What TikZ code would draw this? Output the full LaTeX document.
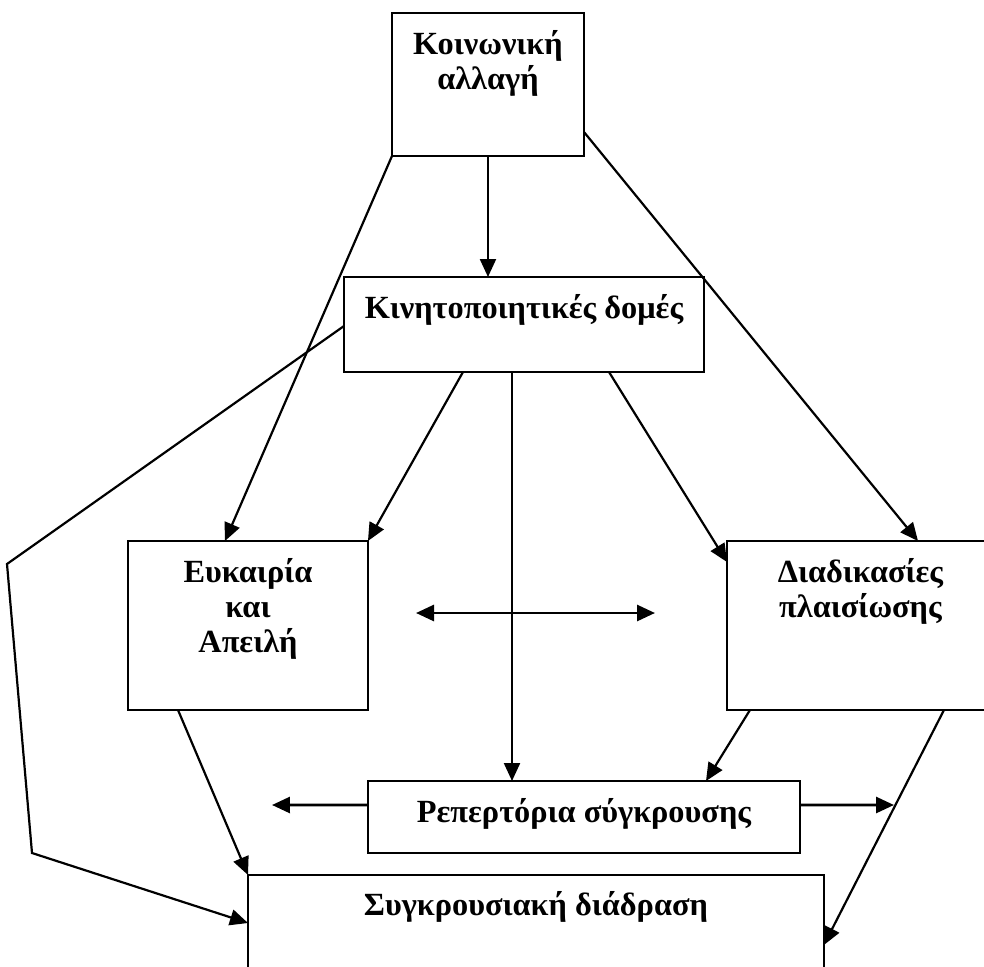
\documentclass[tikz,border=0pt]{standalone}
\usepackage{fontspec}
\setmainfont{Liberation Serif}
\usetikzlibrary{arrows.meta, positioning, calc}
\tikzset{
  box/.style={rectangle, draw=black, line width=1.4pt, inner sep=0pt, outer sep=0pt,
              anchor=north west},
  boxtext/.style={align=center, inner sep=0pt, anchor=north,
                  font=\bfseries\fontsize{18.4}{20}\selectfont},
  arrow/.style={-{Triangle[length=0.36cm, width=0.32cm]}, line width=1.25pt},
  darrow/.style={{Triangle[length=0.36cm, width=0.32cm]}-{Triangle[length=0.36cm, width=0.32cm]}, line width=1.6pt},
}
\begin{document}
\begin{tikzpicture}[x=0.02cm, y=-0.02cm]
  \useasboundingbox (0,0) rectangle (984,967);

  % boxes
  \node[box, minimum width=3.84cm, minimum height=2.86cm] (soc) at (392,13) {};
  \node[box, minimum width=7.2cm, minimum height=1.9cm] (mob) at (344,277) {};
  \node[box, minimum width=4.8cm, minimum height=3.38cm] (opp) at (128,541) {};
  \node[box, minimum width=5.34cm, minimum height=3.38cm] (frame) at (727,541) {};
  \node[box, minimum width=8.64cm, minimum height=1.44cm] (rep) at (368,781) {};
  \node[box, minimum width=11.52cm, minimum height=2.2cm] (inter) at (248,875) {};

  % texts
  \node[boxtext] (soctext) at ($(soc.north)+(0,17)$) {Κοινωνική\\αλλαγή};
  \node[boxtext] (mobtext) at ($(mob.north)+(0,17)$) {Κινητοποιητικές δομές};
  \node[boxtext] (opptext) at ($(opp.north)+(0,17)$) {Ευκαιρία\\και\\Απειλή};
  \node[boxtext] (frametext) at ($(frame.north)+(0,17)$) {Διαδικασίες\\πλαισίωσης};
  \node[boxtext] (reptext) at ($(rep.north)+(0,17)$) {Ρεπερτόρια σύγκρουσης};
  \node[boxtext] (intertext) at ($(inter.north)+(0,16)$) {Συγκρουσιακή διάδραση};

  % free ends and bends
  \coordinate (bendA) at (7,564);
  \coordinate (bendB) at (32,853);
  \coordinate (repL) at (272,805);
  \coordinate (repR) at (894,805);
  \coordinate (linkL) at (416,613);
  \coordinate (linkR) at (655,613);

  % connectors
  \draw[arrow] (soc.south west) -- ($(opp.north)+(-23,0)$);
  \draw[arrow] (soc.south) -- (soc.south |- mob.north);
  \draw[arrow] ($(soc.south east)+(0,-24)$) -- ($(frame.north west)+(191,0)$);
  \draw[arrow] ($(mob.south west)+(119,0)$) -- (opp.north east);
  \draw[arrow] ($(mob.south west)+(168,0)$) -- ($(rep.north west)+(144,0)$);
  \draw[arrow] ($(mob.south west)+(265,0)$) -- ($(frame.north west)+(0,21)$);
  \draw[arrow] ($(mob.north west)+(0,49)$) -- (bendA) -- (bendB) -- ($(inter.north west)+(0,48)$);
  \draw[arrow] ($(opp.south west)+(50,0)$) -- (inter.north west);
  \draw[arrow] ($(frame.south west)+(23,0)$) -- ($(rep.north west)+(338,0)$);
  \draw[arrow] ($(frame.south west)+(217,0)$) -- ($(inter.north east)+(0,70)$);
  \draw[darrow, -{Triangle[length=0.36cm, width=0.32cm]}] ($(rep.west)+(0,-12)$) -- (repL);
  \draw[darrow, -{Triangle[length=0.36cm, width=0.32cm]}] ($(rep.east)+(0,-12)$) -- (repR);
  \draw[darrow] (linkL) -- (linkR);
\end{tikzpicture}
\end{document}
